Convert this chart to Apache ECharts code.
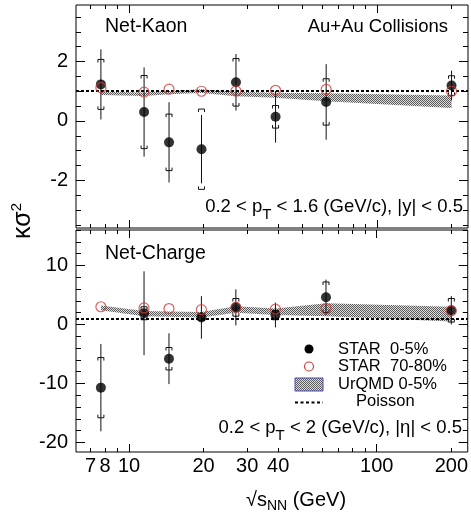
<!DOCTYPE html>
<html>
<head>
<meta charset="utf-8">
<script src="https://cdn.jsdelivr.net/npm/echarts@6/dist/echarts.min.js"></script>
<style>
html, body { margin: 0; padding: 0; background: #fff; }
#main { width: 471px; height: 513px; }
</style>
</head>
<body>
<div id="main"></div>
<script>
// collision energies (GeV)
var energies = [7.7, 11.5, 14.5, 19.6, 27, 39, 62.4, 200];

// net-kaon
var kaonCentral = [1.23, 0.30, -0.72, -0.95, 1.30, 0.14, 0.64, 1.19];
var kaonCentralStat = [1.18, 1.50, 1.35, 1.15, 0.95, 0.87, 1.27, 0.50];
var kaonCentralSys = [0.84, 1.23, 0.95, 1.35, 0.80, 0.38, 0.78, 0.33];
var kaonPeripheral = [1.12, 0.97, 1.07, 1.00, 1.01, 1.03, 1.06, 1.00];
var kaonUrqmdLow = [0.87, 0.84, 0.90, 0.94, 0.83, 0.78, 0.66, 0.44];
var kaonUrqmdHigh = [0.99, 0.96, 1.01, 1.07, 0.98, 0.95, 0.93, 0.86];

// net-charge
var chargeCentral = [-10.7, 1.9, -5.8, 1.2, 2.9, 1.6, 4.6, 2.4];
var chargeCentralStat = [7.4, 7.1, 4.3, 3.6, 3.05, 2.1, 3.0, 2.4];
var chargeCentralSys = [5.1, 1.1, 1.9, 0.5, 1.5, 0.8, 2.6, 2.0];
var chargePeripheral = [3.0, 2.8, 2.7, 2.5, 2.9, 2.6, 2.7, 2.3];
var chargeUrqmdLow = [2.4, 1.4, 1.3, 1.2, 2.0, 1.6, 1.4, 0.5];
var chargeUrqmdHigh = [3.2, 2.3, 2.2, 2.1, 3.1, 2.7, 3.6, 3.0];

var poisson = 1;

// ticks
var xRange = [6.11, 233];
var xMajorTicks = [10, 100];
var xMinorTicks = [7, 8, 9, 20, 30, 40, 50, 60, 70, 80, 90, 200];
var xTickLabels = [7, 8, 10, 20, 30, 40, 100, 200];
var kaonRange = [-3.6, 3.9];
var kaonYLabels = [-2, 0, 2];
var kaonYMinor = [-3.5, -3, -2.5, -1.5, -1, -0.5, 0.5, 1, 1.5, 2.5, 3, 3.5];
var chargeRange = [-21.6, 16];
var chargeYLabels = [-20, -10, 0, 10];
var chargeYMinor = [-18, -16, -14, -12, -8, -6, -4, -2, 2, 4, 6, 8, 12, 14, 16];

var font = 'Liberation Sans, Arial, Helvetica, sans-serif';
var red = '#d23a36';

function lg(v) { return Math.log10(v); }

function hatch() {
    var c = document.createElement('canvas');
    c.width = 2; c.height = 2;
    var g = c.getContext('2d');
    g.fillStyle = '#dedede'; g.fillRect(0, 0, 2, 2);
    g.fillStyle = '#5a5a5a'; g.fillRect(0, 0, 1, 1); g.fillRect(1, 1, 1, 1);
    return c;
}
var pattern = { image: hatch(), repeat: 'repeat' };

// x tick axes live in log10 space, data axis is a real log axis
function xTickAxis(grid, pos, ticks, len, labels) {
    return {
        type: 'value', gridIndex: grid, position: pos,
        min: lg(xRange[0]), max: lg(xRange[1]),
        axisLine: { show: false, onZero: false },
        splitLine: { show: false },
        axisTick: { show: true, inside: true, length: len, customValues: ticks.map(lg), lineStyle: { color: '#000' } },
        axisLabel: labels ? {
            show: true, customValues: labels.map(lg), margin: 4,
            fontSize: 20, fontFamily: font, color: '#000',
            formatter: function (v) { return String(Math.round(Math.pow(10, v))); }
        } : { show: false }
    };
}
function xDataAxis(grid) {
    return {
        type: 'log', gridIndex: grid, min: xRange[0], max: xRange[1], show: false,
        axisLine: { onZero: false }, splitLine: { show: false }
    };
}
function yAxisOf(grid, pos, range, ticks, len, labels) {
    return {
        type: 'value', gridIndex: grid, position: pos, min: range[0], max: range[1],
        axisLine: { show: false, onZero: false },
        splitLine: { show: false },
        axisTick: { show: true, inside: true, length: len, customValues: ticks, lineStyle: { color: '#000' } },
        axisLabel: labels ? {
            show: true, customValues: labels, margin: 8,
            fontSize: 20, fontFamily: font, color: '#000'
        } : { show: false }
    };
}

function renderErrors(params, api) {
    var x = api.value(0), v = api.value(1), stat = api.value(2), sys = api.value(3);
    var c = api.coord([x, v]);
    var top = api.coord([x, v + stat])[1], bot = api.coord([x, v - stat])[1];
    var st = api.coord([x, v + sys])[1], sb = api.coord([x, v - sys])[1];
    var w = 3, h = 3;
    var style = { stroke: '#111', lineWidth: 1, fill: null };
    return {
        type: 'group',
        children: [
            { type: 'line', shape: { x1: c[0], y1: top, x2: c[0], y2: bot }, style: style },
            { type: 'polyline', shape: { points: [[c[0] - w, st + h], [c[0] - w, st], [c[0] + w, st], [c[0] + w, st + h]] }, style: style },
            { type: 'polyline', shape: { points: [[c[0] - w, sb - h], [c[0] - w, sb], [c[0] + w, sb], [c[0] + w, sb - h]] }, style: style }
        ]
    };
}

// whole UrQMD band drawn as one polygon from the first item
function bandRenderer(lo, hi) {
    return function (params, api) {
        if (params.dataIndex !== 0) return null;
        var pts = [];
        energies.forEach(function (e, i) { pts.push(api.coord([e, hi[i]])); });
        for (var i = energies.length - 1; i >= 0; i--) pts.push(api.coord([energies[i], lo[i]]));
        return { type: 'polygon', shape: { points: pts }, style: { fill: pattern, stroke: null } };
    };
}

function panelSeries(xi, yi, key, central, stat, sys, periph, lo, hi) {
    return [
        {
            type: 'custom', name: 'UrQMD 0-5%', xAxisIndex: xi, yAxisIndex: yi, z: 1, silent: true,
            renderItem: bandRenderer(lo, hi), encode: { x: 0, y: [1, 2] },
            data: energies.map(function (e, i) { return [e, lo[i], hi[i]]; })
        },
        {
            type: 'line', name: 'Poisson', xAxisIndex: xi, yAxisIndex: yi, data: [], z: 2,
            markLine: {
                silent: true, symbol: 'none', label: { show: false },
                lineStyle: { color: '#000', width: 2, type: [3, 2] },
                data: [{ yAxis: poisson }]
            }
        },
        {
            type: 'custom', name: key + '-err', xAxisIndex: xi, yAxisIndex: yi, z: 3,
            renderItem: renderErrors, encode: { x: 0, y: 1 },
            data: energies.map(function (e, i) { return [e, central[i], stat[i], sys[i]]; })
        },
        {
            type: 'scatter', name: 'STAR 0-5%', xAxisIndex: xi, yAxisIndex: yi, z: 4,
            symbol: 'circle', symbolSize: 10, itemStyle: { color: '#000' },
            data: energies.map(function (e, i) { return [e, central[i]]; })
        },
        {
            type: 'scatter', name: 'STAR 70-80%', xAxisIndex: xi, yAxisIndex: yi, z: 5,
            symbol: 'circle', symbolSize: 10,
            itemStyle: { color: 'rgba(0,0,0,0)', borderColor: red, borderWidth: 1.2 },
            data: energies.map(function (e, i) { return [e, periph[i]]; })
        }
    ];
}

var subStyle = { fontSize: 15, fontFamily: font, padding: [15, 0, 0, 0] };
function txt(x, y, text, align, size, rich) {
    return {
        type: 'text', x: x, y: y, z: 10,
        style: {
            text: text, fill: '#000', fontSize: size, fontFamily: font,
            align: align, verticalAlign: 'middle', rich: rich || {}
        }
    };
}

var legendX = 309, legendTextX = 338;
var graphics = [
    txt(105, 27, 'Net-Kaon', 'left', 19.5),
    txt(448, 27, 'Au+Au Collisions', 'right', 18.5),
    txt(463, 207, '0.2 < p{sub|T} < 1.6 (GeV/c), |y| < 0.5', 'right', 18.5, { sub: subStyle }),
    txt(105, 254, 'Net-Charge', 'left', 19.5),
    txt(462, 428, '0.2 < p{sub|T} < 2 (GeV/c), |η| < 0.5', 'right', 18.5, { sub: subStyle }),
    {
        type: 'text', x: 23, y: 221, rotation: Math.PI / 2, z: 10,
        style: {
            text: 'κσ{sup|2}', fill: '#000', fontSize: 25, fontFamily: font,
            align: 'center', verticalAlign: 'middle',
            rich: { sup: { fontSize: 15, fontFamily: font, padding: [0, 0, 12, 0] } }
        }
    },
    {
        type: 'text', x: 296, y: 500, z: 10,
        style: {
            text: '√s{sub|NN} (GeV)', fill: '#000', fontSize: 20, fontFamily: font,
            align: 'center', verticalAlign: 'middle',
            rich: { sub: { fontSize: 14, fontFamily: font, padding: [12, 0, 0, 0] } }
        }
    },
    // legend
    { type: 'circle', z: 10, shape: { cx: legendX, cy: 349, r: 4.5 }, style: { fill: '#000' } },
    { type: 'circle', z: 10, shape: { cx: legendX, cy: 366.5, r: 4.5 }, style: { fill: null, stroke: red, lineWidth: 1.2 } },
    { type: 'rect', z: 10, shape: { x: 295, y: 378, width: 28, height: 13 }, style: { fill: pattern, stroke: '#4a4ac0', lineWidth: 1 } },
    { type: 'line', z: 10, shape: { x1: 295, y1: 402.5, x2: 323, y2: 402.5 }, style: { stroke: '#000', lineWidth: 2, lineDash: [3, 2.5] } },
    txt(legendTextX, 349, 'STAR  0-5%', 'left', 16.5),
    txt(legendTextX, 366, 'STAR  70-80%', 'left', 16.5),
    txt(legendTextX, 384, 'UrQMD 0-5%', 'left', 16.5),
    txt(356, 401, 'Poisson', 'left', 16.5)
];

var chart = echarts.init(document.getElementById('main'));
chart.setOption({
    animation: false,
    backgroundColor: '#fff',
    textStyle: { fontFamily: font },
    grid: [
        { left: 76, top: 5, width: 392, height: 223, show: true, borderColor: '#000', borderWidth: 1, backgroundColor: 'transparent' },
        { left: 76, top: 230, width: 392, height: 222, show: true, borderColor: '#000', borderWidth: 1, backgroundColor: 'transparent' }
    ],
    xAxis: [
        xDataAxis(0),
        xTickAxis(0, 'bottom', xMajorTicks, 8),
        xTickAxis(0, 'bottom', xMinorTicks, 4),
        xTickAxis(0, 'top', xMajorTicks, 8),
        xTickAxis(0, 'top', xMinorTicks, 4),
        xDataAxis(1),
        xTickAxis(1, 'bottom', xMajorTicks, 8, xTickLabels),
        xTickAxis(1, 'bottom', xMinorTicks, 4),
        xTickAxis(1, 'top', xMajorTicks, 8),
        xTickAxis(1, 'top', xMinorTicks, 4)
    ],
    yAxis: [
        yAxisOf(0, 'left', kaonRange, kaonYLabels, 9, kaonYLabels),
        yAxisOf(0, 'left', kaonRange, kaonYMinor, 5),
        yAxisOf(0, 'right', kaonRange, kaonYLabels, 9),
        yAxisOf(0, 'right', kaonRange, kaonYMinor, 5),
        yAxisOf(1, 'left', chargeRange, chargeYLabels, 9, chargeYLabels),
        yAxisOf(1, 'left', chargeRange, chargeYMinor, 5),
        yAxisOf(1, 'right', chargeRange, chargeYLabels, 9),
        yAxisOf(1, 'right', chargeRange, chargeYMinor, 5)
    ],
    series: [].concat(
        panelSeries(0, 0, 'kaon', kaonCentral, kaonCentralStat, kaonCentralSys, kaonPeripheral, kaonUrqmdLow, kaonUrqmdHigh),
        panelSeries(5, 4, 'charge', chargeCentral, chargeCentralStat, chargeCentralSys, chargePeripheral, chargeUrqmdLow, chargeUrqmdHigh)
    ),
    graphic: graphics
});
</script>
</body>
</html>
